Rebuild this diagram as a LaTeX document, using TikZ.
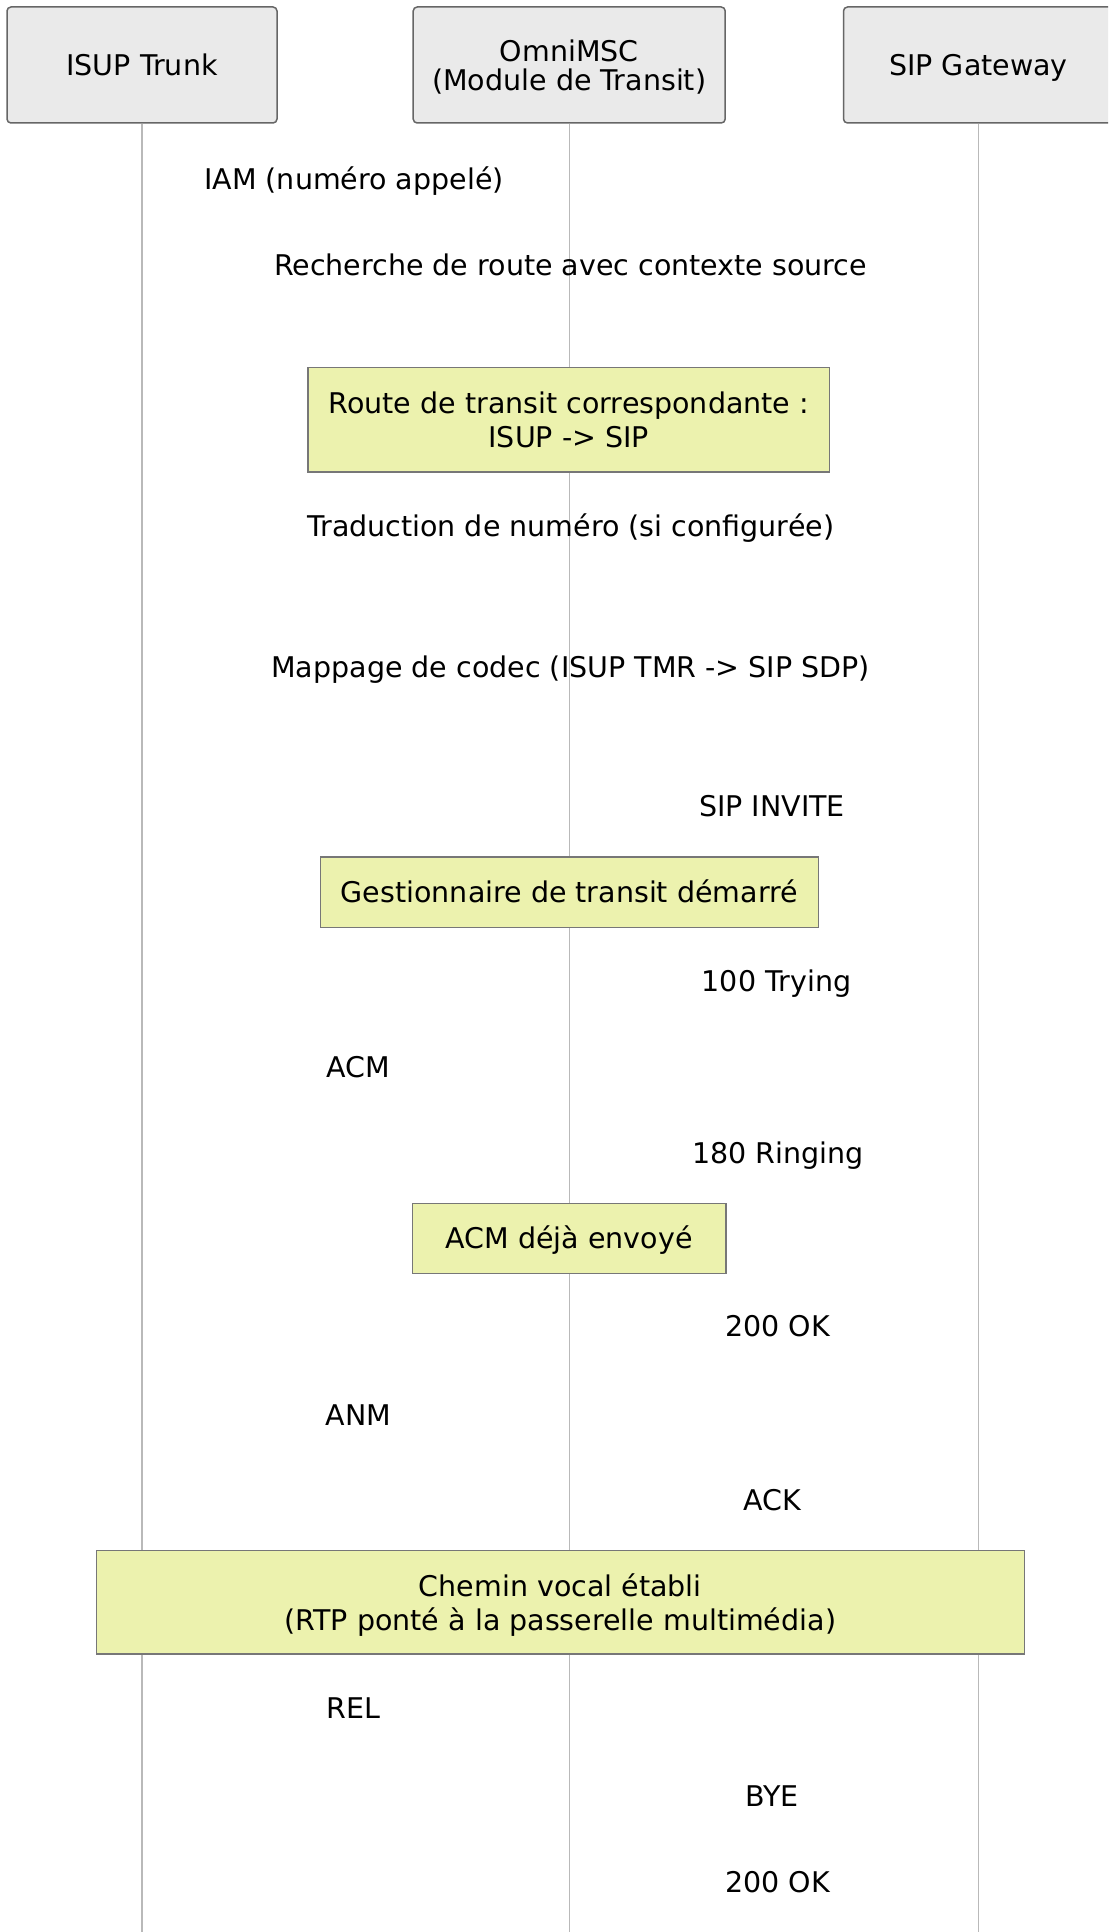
\documentclass[tikz,border=0pt]{standalone}
\usepackage{fontspec}
\setmainfont{DejaVu Sans}
\definecolor{actorfill}{RGB}{234,234,234}
\definecolor{actorline}{RGB}{102,102,102}
\definecolor{notefill}{RGB}{236,242,174}
\definecolor{noteline}{RGB}{119,119,119}
\definecolor{lifecol}{RGB}{185,185,185}
\begin{document}
\begin{tikzpicture}[x=1pt,y=-1pt,
  every node/.style={font=\fontsize{28.5}{29}\selectfont},
  actor/.style={draw=actorline, fill=actorfill, rounded corners=4pt, line width=1.5pt,
    minimum height=116pt, align=center, inner sep=0pt, text depth=0pt},
  notebox/.style={draw=noteline, fill=notefill, line width=1.5pt, align=center, inner sep=0pt,
    font=\fontsize{28.5}{34}\selectfont, text depth=0pt},
  oneline/.style={text height=20.8pt, text depth=0pt},
  msg/.style={inner sep=0pt, text height=20.8pt, text depth=0pt},
  life/.style={draw=lifecol, line width=1.3pt}]
\path[use as bounding box, clip] (0,0) rectangle (1108,1932);
\fill[white] (0,0) rectangle (1108,1932);
% actors
\node[actor, oneline, minimum width=270pt] (isup) at (142,65) {ISUP Trunk};
\node[actor, minimum width=312pt] (msc) at (569.2,65) {OmniMSC\\(Module de Transit)};
\node[actor, oneline, minimum width=270pt] (sip) at (978.5,65) {SIP Gateway};
% lifelines
\coordinate (isupend) at (142,1932);
\coordinate (mscend) at (569.2,1932);
\coordinate (sipend) at (978.5,1932);
\draw[life] (isup.south) -- (isupend);
\draw[life] (msc.south) -- (mscend);
\draw[life] (sip.south) -- (sipend);
% messages (labels only)
\node[msg] (m1) at (354,178.7) {IAM (numéro appelé)};
\node[msg] (m2) at (570.6,265) {Recherche de route avec contexte source};
\node[notebox, minimum width=521.3pt, minimum height=104.7pt] (n1) at (568.8,419.8) {Route de transit correspondante :\\ISUP -> SIP};
\node[msg] (m3) at (570.6,526.2) {Traduction de numéro (si configurée)};
\node[msg] (m4) at (570.6,666.7) {Mappage de codec (ISUP TMR -> SIP SDP)};
\node[msg] (m5) at (772,806) {SIP INVITE};
\node[notebox, oneline, minimum width=497.9pt, minimum height=70.5pt] (n2) at (569.4,892) {Gestionnaire de transit démarré};
\node[msg] (m6) at (776.5,981) {100 Trying};
\node[msg] (m7) at (358.6,1067) {ACM};
\node[msg] (m8) at (777.7,1153.5) {180 Ringing};
\node[notebox, oneline, minimum width=313.5pt, minimum height=70pt] (n3) at (569.2,1238.3) {ACM déjà envoyé};
\node[msg] (m9) at (777.7,1326.5) {200 OK};
\node[msg] (m10) at (358.6,1414.8) {ANM};
\node[msg] (m11) at (772,1499.8) {ACK};
\node[notebox, minimum width=928pt, minimum height=103.8pt] (n4) at (560.4,1602.2) {Chemin vocal établi\\(RTP ponté à la passerelle multimédia)};
\node[msg] (m12) at (353.7,1708) {REL};
\node[msg] (m13) at (772,1795.6) {BYE};
\node[msg] (m14) at (777.7,1882) {200 OK};
\end{tikzpicture}
\end{document}
